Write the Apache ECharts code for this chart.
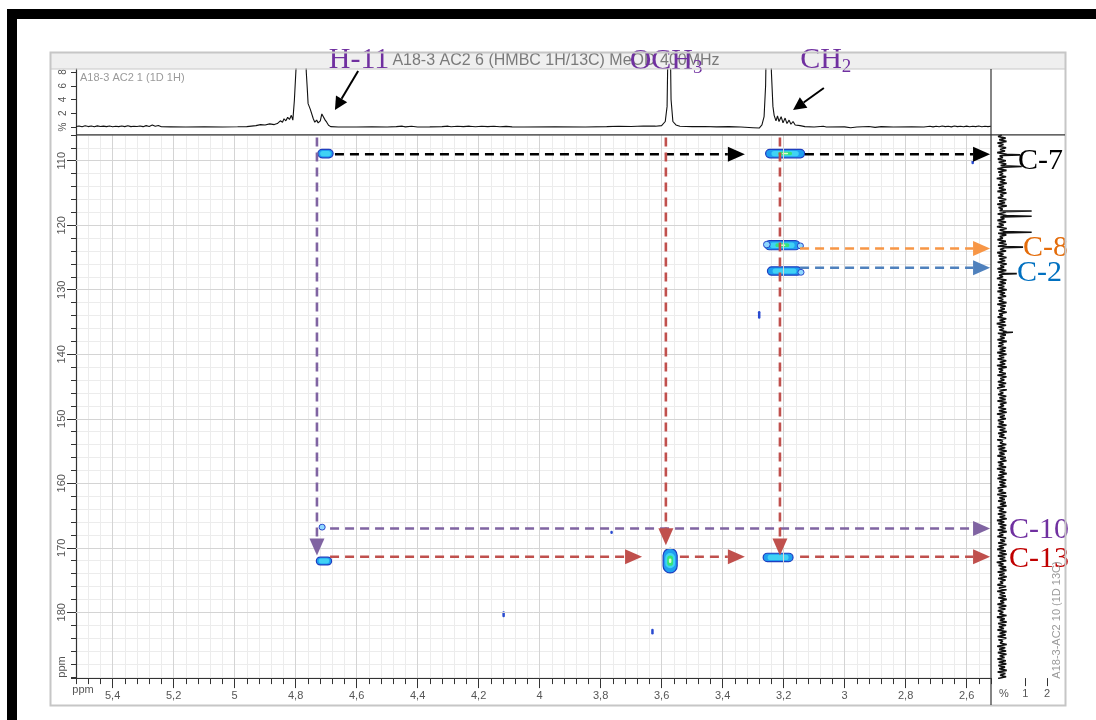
<!DOCTYPE html>
<html><head><meta charset="utf-8">
<script src="https://cdn.jsdelivr.net/npm/echarts@6/dist/echarts.min.js"></script>
<style>html,body{margin:0;padding:0;background:#fff}#c{width:1096px;height:720px}</style>
</head><body><div id="c"></div>
<script>
// ---------- data ----------
const xTickValues = [5.4, 5.2, 5.0, 4.8, 4.6, 4.4, 4.2, 4.0, 3.8, 3.6, 3.4, 3.2, 3.0, 2.8, 2.6];
const yTickValues = [110, 120, 130, 140, 150, 160, 170, 180];
const topTickValues = [0, 2, 4, 6, 8];
const rightTickValues = [1, 2];
const rightLabelValues = [0, 1, 2];

const titleText = 'A18-3 AC2 6 (HMBC 1H/13C) MeOD 400MHz';
const topSpecName = 'A18-3 AC2 1 (1D 1H)';
const rightSpecName = 'A18-3-AC2 10 (1D 13C)';

// 1D 1H projection [ppm, %]
const h1Spectrum = [
[5.52,0.08],[5.51,0.15],[5.50,0.04],[5.49,0.18],[5.48,0.06],[5.47,0.14],[5.46,0.03],[5.45,0.16],[5.44,0.07],[5.43,0.13],[5.42,0.05],[5.41,0.15],[5.40,0.04],[5.39,0.11],[5.38,0.06],[5.37,0.14],[5.36,0.05],[5.35,0.17],[5.34,0.05],[5.33,0.12],[5.32,0.07],[5.31,0.15],[5.30,0.05],[5.29,0.2],[5.28,0.08],[5.27,0.28],[5.26,0.1],[5.25,0.22],[5.24,0.04],[5.21,0.02],[5.16,0.0],[5.10,0.02],[5.04,0.0],[4.99,0.03],[4.96,0.06],
[4.93,0.2],[4.915,0.35],[4.90,0.3],[4.885,0.45],[4.87,0.35],[4.86,0.5],[4.85,0.9],[4.843,0.7],[4.838,1.2],[4.832,0.9],[4.826,1.4],[4.82,1.1],[4.814,1.7],[4.809,1.0],[4.804,3.9],[4.798,9],[4.79,18],[4.78,20],[4.77,16],[4.765,8],[4.762,5.8],[4.759,3.4],[4.752,2.6],[4.746,2.4],[4.742,1.2],[4.737,0.7],[4.731,1.0],[4.726,0.6],[4.719,0.9],[4.714,1.9],[4.709,2.1],[4.703,1.0],[4.698,0.7],[4.692,0.25],[4.685,0.05],[4.66,0.0],
[4.60,0.0],[4.55,0.03],[4.50,0.0],[4.47,0.05],[4.45,0.12],[4.44,0.02],[4.42,0.1],[4.40,0.0],[4.36,0.02],[4.32,0.06],[4.30,0.12],[4.29,0.04],[4.27,0.1],[4.25,0.05],[4.23,0.12],[4.21,0.04],[4.19,0.1],[4.17,0.05],[4.15,0.11],[4.13,0.03],[4.11,0.09],[4.09,0.02],[4.05,0.0],[3.95,0.02],[3.85,0.0],[3.78,0.05],[3.74,0.1],[3.70,0.08],[3.66,0.15],[3.62,0.12],[3.60,0.2],
[3.595,0.3],[3.588,0.8],[3.582,3],[3.579,12],[3.576,20],[3.572,14],[3.569,4],[3.563,0.8],[3.553,0.3],[3.54,0.1],[3.50,0.05],[3.46,0.08],[3.42,0.02],[3.38,0.05],[3.34,0.0],[3.30,-0.1],[3.28,-0.15],[3.271,0.3],[3.264,1.5],[3.259,6],[3.254,20],[3.245,20],[3.240,8],[3.235,3],[3.231,1.7],[3.225,0.9],[3.220,1.6],[3.215,0.8],[3.208,1.5],[3.202,0.6],[3.195,1.3],[3.189,0.5],[3.182,1.0],[3.176,0.4],[3.169,0.8],[3.162,0.3],[3.156,0.5],[3.146,0.2],[3.13,0.05],
[3.10,0.0],[3.07,0.1],[3.06,0.0],[3.00,0.02],[2.98,-0.1],[2.96,0.0],[2.92,0.08],[2.90,-0.05],[2.88,0.05],[2.84,0.0],[2.78,0.02],[2.74,0.0],[2.72,0.1],[2.71,0.02],[2.70,0.12],[2.69,0.03],[2.68,0.14],[2.67,0.05],[2.66,0.12],[2.65,0.02],[2.64,0.15],[2.63,0.05],[2.62,0.1],[2.61,0.03],[2.60,0.13],[2.59,0.04],[2.58,0.12],[2.57,0.05],[2.56,0.14],[2.55,0.03],[2.54,0.1],[2.53,0.05],[2.52,0.1]
];

// 1D 13C projection: noise sampled every 0.25 ppm from 106 ppm, plus peaks [ppm, %]
const c13NoiseStart = 106;
const c13NoiseStep = 0.25;
const c13Noise = [
-0.1,-0.27,0.08,-0.22,0.12,-0.3,-0.02,-0.25,0.1,-0.18,0.05,-0.31,0.13,-0.2,-0.05,-0.28,0.09,-0.24,0.11,-0.15,
0.03,-0.3,0.12,-0.26,-0.04,-0.21,0.1,-0.33,0.06,-0.19,0.13,-0.27,0.0,-0.23,0.09,-0.3,0.12,-0.17,-0.03,-0.28,
0.11,-0.22,0.05,-0.31,0.13,-0.25,-0.06,-0.2,0.08,-0.29,0.12,-0.16,0.02,-0.3,0.1,-0.24,-0.01,-0.32,0.13,-0.2,
0.07,-0.27,0.11,-0.19,-0.05,-0.3,0.09,-0.23,0.13,-0.28,0.03,-0.18,0.1,-0.31,-0.02,-0.25,0.12,-0.21,0.06,-0.29,
0.13,-0.17,0.01,-0.3,0.11,-0.26,0.07,-0.22,-0.04,-0.32,0.12,-0.2,0.09,-0.27,0.02,-0.24,0.13,-0.3,0.05,-0.19,
0.1,-0.28,-0.03,-0.23,0.12,-0.31,0.08,-0.17,0.04,-0.26,0.13,-0.22,-0.05,-0.29,0.11,-0.2,0.06,-0.33,0.1,-0.25,
0.0,-0.21,0.12,-0.28,0.09,-0.18,0.03,-0.3,0.13,-0.24,-0.02,-0.27,0.1,-0.2,0.07,-0.31,0.12,-0.23,0.01,-0.29,
0.11,-0.19,0.06,-0.32,0.13,-0.25,-0.04,-0.22,0.09,-0.3,0.12,-0.17,0.02,-0.28,0.1,-0.24,0.05,-0.31,0.13,-0.2,
-0.03,-0.27,0.11,-0.21,0.08,-0.3,0.12,-0.18,0.0,-0.26,0.1,-0.23,0.13,-0.32,0.04,-0.19,0.09,-0.28,-0.01,-0.24,
0.12,-0.3,0.07,-0.2,0.13,-0.27,0.02,-0.22,0.1,-0.31,-0.05,-0.18,0.11,-0.29,0.06,-0.25,0.13,-0.21,0.03,-0.3,
0.09,-0.17,0.12,-0.28,-0.02,-0.24,0.1,-0.32,0.05,-0.2,0.13,-0.26,0.01,-0.3,0.11,-0.22,0.07,-0.19,0.12,-0.29,
-0.04,-0.25,0.1,-0.31,0.13,-0.21,0.04,-0.27,0.09,-0.18,0.12,-0.3,-0.01,-0.23,0.11,-0.28,0.06,-0.2,0.13,-0.32,
0.02,-0.26,0.11,-0.19,0.08,-0.29,0.13,-0.22,-0.03,-0.3,0.1,-0.17,0.05,-0.27,0.12,-0.24,0.0,-0.31,0.09,-0.21,
0.13,-0.28,0.06,-0.2,0.11,-0.33,-0.02,-0.25,0.1,-0.19,0.12,-0.29,0.03,-0.22,0.13,-0.27,0.08,-0.18,-0.04,-0.3,
0.1,-0.23,0.12,-0.31,0.05,-0.2,0.09,-0.26,0.13,-0.17,0.01,-0.3,0.11,-0.24,0.07,-0.28,-0.03,-0.21,0.12,-0.32,
0.04,-0.19,0.13,-0.27,0.1,-0.23,0.0,-0.3,0.12,-0.2,0.08,-0.29,0.11,-0.25,-0.05,-0.18,0.13,-0.31,0.06,-0.22,
0.1,-0.28,0.12,-0.2,0.03,-0.3,0.09,-0.24,0.11,-0.26,0.05,-0.22,0.13,-0.29,0.07,-0.18,0.1,-0.27
];
const c13Peaks = [[109.1,0.75],[110.9,0.83],[117.8,1.29],[118.6,1.29],[121.1,1.29],[123.4,0.89],[127.5,0.6],[136.6,0.42]];

// HMBC cross peaks: [1H ppm, 13C ppm, width ppm, height ppm, level]
const crossPeaks = [
 [4.702,108.9,0.050,1.3,2],
 [3.195,108.9,0.128,1.3,3],
 [3.204,123.1,0.115,1.4,3],
 [3.255,123.0,0.022,1.0,1],
 [3.145,123.2,0.020,0.9,1],
 [3.197,127.1,0.112,1.3,2],
 [3.143,127.3,0.020,0.9,1],
 [4.713,166.8,0.020,0.9,1],
 [4.707,172.05,0.050,1.2,2],
 [3.572,172.0,0.046,3.8,3],
 [3.218,171.5,0.098,1.3,2],
 [2.580,110.2,0.008,0.7,0],
 [3.764,167.6,0.008,0.5,0],
 [4.118,180.3,0.008,0.9,0],
 [3.630,183.0,0.008,0.9,0],
 [3.280,133.9,0.004,1.2,0]
];

// correlation arrows: [from 1H, from 13C, to 1H, to 13C, group]
const arrowLinks = [
 [4.671,109.0, 3.327,109.0, 'C-7'],
 [3.130,109.0, 2.523,109.0, 'C-7'],
 [3.146,123.6, 2.523,123.6, 'C-8'],
 [3.146,126.6, 2.523,126.6, 'C-2'],
 [4.687,167.0, 2.523,167.0, 'C-10'],
 [4.687,171.4, 3.664,171.4, 'C-13'],
 [3.540,171.4, 3.327,171.4, 'C-13'],
 [3.146,171.4, 2.523,171.4, 'C-13'],
 [4.730,106.4, 4.730,171.2, 'C-10'],
 [3.586,106.4, 3.586,169.6, 'C-13'],
 [3.212,106.4, 3.212,171.2, 'C-13']
];

// proton labels above the 1H projection: [text, subscript, anchor ppm, anchor %]
const protonLabels = [['H-11','',4.592,9.75],['OCH','3',3.497,9.6],['CH','2',3.009,9.75]];
// proton pointer arrows [tail ppm, tail %, tip ppm, tip %]
const protonPointers = [[4.595,8.15,4.671,2.47],[3.068,5.67,3.169,2.47]];
// carbon labels right of 13C projection: [text, %, ppm]
const carbonLabels = [['C-7',0.655,110.05],['C-8',0.89,123.5],['C-2',0.61,127.4],['C-10',0.24,167.2],['C-13',0.24,171.8]];

// ---------- styles ----------
const lineColors = {'C-7':'#000000','C-8':'#f79646','C-2':'#4f81bd','C-10':'#8064a2','C-13':'#c0504d'};
const textColors = {'C-7':'#000000','C-8':'#e46c0a','C-2':'#0070c0','C-10':'#7030a0','C-13':'#c00000'};
const labelPurple = '#7030a0';
const SERIF = '"Liberation Serif","Times New Roman",serif';
const SANS = '"Liberation Sans",Arial,sans-serif';

const c13Pts = c13Noise.map((v, i) => [v, c13NoiseStart + i * c13NoiseStep]);
c13Peaks.forEach(([p, h]) => { c13Pts.push([-0.05, p - 0.1], [h, p], [-0.05, p + 0.1]); });
c13Pts.sort((a, b) => a[1] - b[1]);

function arrowEls(p1, p2, color, lw, dash, L, W) {
  const dx = p2[0]-p1[0], dy = p2[1]-p1[1], len = Math.hypot(dx, dy);
  const ux = dx/len, uy = dy/len, bx = p2[0]-ux*L, by = p2[1]-uy*L, nx = -uy, ny = ux;
  return [
    {type:'line', shape:{x1:p1[0], y1:p1[1], x2:bx, y2:by}, style:{stroke:color, lineWidth:lw, lineDash:dash}},
    {type:'polygon', shape:{points:[[p2[0],p2[1]],[bx+nx*W,by+ny*W],[bx-nx*W,by-ny*W]]}, style:{fill:color}}
  ];
}
function pill(cx, cy, w, h, style) {
  return {type:'rect', shape:{x:cx-w/2, y:cy-h/2, width:w, height:h, r:Math.min(w,h)/2}, style:style};
}

const chart = echarts.init(document.getElementById('c'));
const axisCol = '#333';

chart.setOption({
  animation:false,
  grid:[
    {left:76, top:134.9, width:915, height:543.2},
    {left:76, top:69, width:915, height:65.9},
    {left:991, top:134.9, width:71, height:543.2}
  ],
  xAxis:[
    {gridIndex:0, type:'value', min:2.52, max:5.52, interval:0.04, inverse:true, position:'bottom',
     axisLine:{show:true, lineStyle:{color:axisCol, width:1.2}},
     axisTick:{show:true, length:6, lineStyle:{color:axisCol}},
     axisLabel:{show:false}, splitLine:{show:true, lineStyle:{color:'#ececec', width:1}}},
    {gridIndex:0, type:'value', min:2.52, max:5.52, inverse:true, position:'bottom',
     axisLine:{show:false},
     axisTick:{show:true, length:10, customValues:xTickValues, lineStyle:{color:axisCol}},
     axisLabel:{show:true, customValues:xTickValues, margin:12, fontSize:11, fontFamily:SANS, color:'#555',
       formatter:v => String(v).replace('.', ',')},
     splitLine:{show:false}},
    {gridIndex:1, type:'value', min:2.52, max:5.52, inverse:true, show:false},
    {gridIndex:2, type:'value', min:-0.6, max:2.7, position:'bottom',
     axisLine:{show:false},
     axisTick:{show:true, length:8, customValues:rightTickValues, lineStyle:{color:axisCol}},
     axisLabel:{show:true, customValues:rightLabelValues, margin:10, fontSize:11, fontFamily:SANS, color:'#555',
       formatter:v => v === 0 ? '%' : String(v)},
     splitLine:{show:false}}
  ],
  yAxis:[
    {gridIndex:0, type:'value', min:106, max:190.2, interval:2, inverse:true, position:'left',
     axisLine:{show:true, lineStyle:{color:axisCol, width:1.2}},
     axisTick:{show:true, length:5, lineStyle:{color:axisCol}},
     axisLabel:{show:false}, splitLine:{show:true, lineStyle:{color:'#ececec', width:1}}},
    {gridIndex:0, type:'value', min:106, max:190.2, inverse:true, position:'left',
     axisLine:{show:false},
     axisTick:{show:true, length:9, customValues:yTickValues, lineStyle:{color:axisCol}},
     axisLabel:{show:true, customValues:yTickValues, rotate:90, margin:9, fontSize:11, fontFamily:SANS, color:'#555'},
     splitLine:{show:false}},
    {gridIndex:1, type:'value', min:-1.15, max:8.44, position:'left',
     axisLine:{show:true, lineStyle:{color:axisCol, width:1.2}},
     axisTick:{show:true, length:5, customValues:topTickValues, lineStyle:{color:axisCol}},
     axisLabel:{show:true, customValues:topTickValues, rotate:90, margin:8, fontSize:10, fontFamily:SANS, color:'#555',
       formatter:v => v === 0 ? '%' : String(v)},
     splitLine:{show:false}},
    {gridIndex:2, type:'value', min:106, max:190.2, inverse:true, show:false}
  ],
  series:[
    {type:'line', xAxisIndex:0, yAxisIndex:0, data:[], z:1, silent:true,
     markLine:{silent:true, symbol:['none','none'], label:{show:false}, animation:false,
       lineStyle:{color:'#d4d4d4', type:'solid', width:1},
       data: xTickValues.map(v => ({xAxis:v})).concat(yTickValues.map(v => ({yAxis:v})))}},
    {type:'line', xAxisIndex:2, yAxisIndex:2, data:h1Spectrum, showSymbol:false, symbol:'none', clip:true,
     lineStyle:{color:'#111', width:1.1}, z:3, silent:true},
    {type:'line', xAxisIndex:3, yAxisIndex:3, data:c13Pts, showSymbol:false, symbol:'none', clip:true,
     lineStyle:{color:'#111', width:1.6}, z:3, silent:true},
    {type:'custom', xAxisIndex:0, yAxisIndex:0, data:crossPeaks, z:4, silent:true,
     encode:{x:0, y:1},
     renderItem:(params, api) => {
       const c = api.coord([api.value(0), api.value(1)]);
       const s = api.size([api.value(2), api.value(3)]);
       const lvl = api.value(4);
       const w = Math.max(s[0], 2.5), h = Math.max(s[1], 2.5);
       const ch = [];
       if (lvl === 0) {
         ch.push(pill(c[0], c[1], w, h, {fill:'#2a4bd0'}));
       } else if (lvl === 1) {
         ch.push(pill(c[0], c[1], w, h, {fill:'#8fd8ff', stroke:'#2846c8', lineWidth:1}));
       } else {
         ch.push(pill(c[0], c[1], w, h, {fill:'#1f9ff0', stroke:'#1e3ec0', lineWidth:1.2}));
         ch.push(pill(c[0], c[1], w*0.7, h*0.62, {fill:'#40d2f4'}));
         if (lvl === 3) {
           ch.push(pill(c[0], c[1], Math.min(w*0.42, 14), h*0.42, {fill:'#36e37a'}));
           ch.push(pill(c[0], c[1], Math.min(w*0.18, 6), h*0.18, {fill:'#d8ffd0'}));
         }
       }
       return {type:'group', children:ch};
     }},
    {type:'custom', xAxisIndex:0, yAxisIndex:0, data:arrowLinks.map(a => a.slice(0, 4)), z:6, silent:true,
     renderItem:(params, api) => {
       const a = arrowLinks[params.dataIndex];
       const p1 = api.coord([a[0], a[1]]), p2 = api.coord([a[2], a[3]]);
       return {type:'group', children:arrowEls(p1, p2, lineColors[a[4]], 2.6, [9, 6], 17, 7.5)};
     }},
    {type:'custom', xAxisIndex:2, yAxisIndex:2, data:protonLabels.map(l => [l[2], l[3]]), z:7, silent:true,
     renderItem:(params, api) => {
       const l = protonLabels[params.dataIndex];
       const p = api.coord([l[2], l[3]]);
       if (!l[1]) {
         return {type:'text', x:p[0], y:p[1], style:{text:l[0], fill:labelPurple, font:'30px ' + SERIF, align:'center', verticalAlign:'middle'}};
       }
       return {type:'group', children:[
         {type:'text', x:p[0], y:p[1], style:{text:l[0], fill:labelPurple, font:'30px ' + SERIF, align:'right', verticalAlign:'middle'}},
         {type:'text', x:p[0], y:p[1] + 7, style:{text:l[1], fill:labelPurple, font:'19px ' + SERIF, align:'left', verticalAlign:'middle'}}
       ]};
     }},
    {type:'custom', xAxisIndex:2, yAxisIndex:2, data:protonPointers.map(a => [a[0], a[1]]), z:7, silent:true,
     renderItem:(params, api) => {
       const a = protonPointers[params.dataIndex];
       return {type:'group', children:arrowEls(api.coord([a[0], a[1]]), api.coord([a[2], a[3]]), '#000', 2, null, 13, 6.5)};
     }},
    {type:'custom', xAxisIndex:3, yAxisIndex:3, data:carbonLabels.map(l => [l[1], l[2]]), z:7, silent:true,
     renderItem:(params, api) => {
       const l = carbonLabels[params.dataIndex];
       const p = api.coord([l[1], l[2]]);
       return {type:'text', x:p[0], y:p[1], style:{text:l[0], fill:textColors[l[0]], font:'30px ' + SERIF, align:'left', verticalAlign:'middle'}};
     }}
  ],
  graphic:[
    {type:'rect', z:-10, silent:true, shape:{x:51, y:53, width:1014, height:16}, style:{fill:'#efefef'}},
    {type:'line', z:50, silent:true, shape:{x1:51, y1:69, x2:1065, y2:69}, style:{stroke:'#c8c8c8', lineWidth:1}},
    {type:'rect', z:50, silent:true, shape:{x:50.5, y:52.5, width:1015, height:653}, style:{fill:null, stroke:'#c6c6c6', lineWidth:2}},
    {type:'text', z:5, silent:true, x:556, y:61, style:{text:titleText, font:'16px ' + SANS, fill:'#7a7a7a', align:'center', verticalAlign:'middle'}},
    {type:'text', z:50, silent:true, x:80, y:78, style:{text:topSpecName, font:'11px ' + SANS, fill:'#9a9a9a', align:'left', verticalAlign:'middle'}},
    {type:'text', z:50, silent:true, x:1057, y:620, rotation:Math.PI/2, style:{text:rightSpecName, font:'11px ' + SANS, fill:'#9a9a9a', align:'center', verticalAlign:'middle'}},
    {type:'text', z:50, silent:true, x:83, y:690, style:{text:'ppm', font:'11px ' + SANS, fill:'#555', align:'center', verticalAlign:'middle'}},
    {type:'text', z:50, silent:true, x:62, y:667, rotation:Math.PI/2, style:{text:'ppm', font:'11px ' + SANS, fill:'#555', align:'center', verticalAlign:'middle'}},
    {type:'line', z:50, silent:true, shape:{x1:76, y1:134.9, x2:1065, y2:134.9}, style:{stroke:'#333', lineWidth:1.2}},
    {type:'line', z:50, silent:true, shape:{x1:991, y1:69, x2:991, y2:705}, style:{stroke:'#333', lineWidth:1.2}},
    {type:'rect', z:60, silent:true, shape:{x:7, y:9, width:1089, height:10}, style:{fill:'#000'}},
    {type:'rect', z:60, silent:true, shape:{x:7, y:9, width:10, height:711}, style:{fill:'#000'}}
  ]
});
</script>
</body></html>
